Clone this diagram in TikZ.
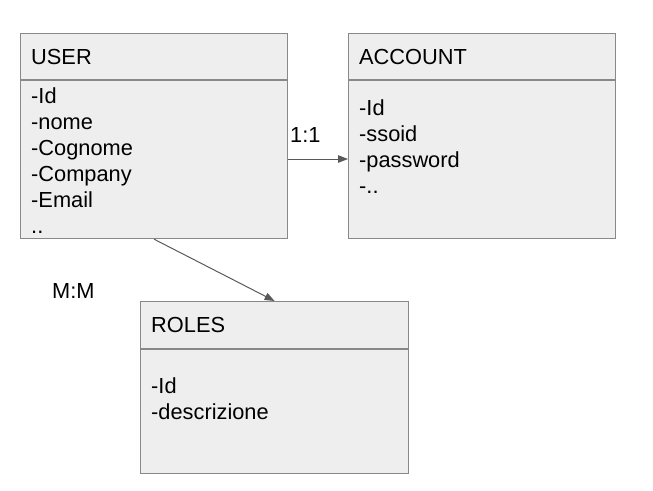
\documentclass[tikz,border=0pt]{standalone}
\usepackage{fontspec}
\setmainfont{Liberation Sans}
\usetikzlibrary{arrows.meta}
\definecolor{boxfill}{HTML}{EEEEEE}
\definecolor{boxline}{HTML}{888888}
\definecolor{arrcol}{HTML}{595959}
\begin{document}
\begin{tikzpicture}[x=1pt,y=-1pt,
  entbox/.style={draw=boxline,fill=boxfill,line width=1.2pt,inner sep=0pt,anchor=north west},
  sepline/.style={draw=boxline,line width=1.2pt},
  txt/.style={anchor=base west,inner sep=0pt,font=\fontsize{21.8}{26}\selectfont,text=black},
  arr/.style={draw=arrcol,line width=1pt,-{Triangle[length=10pt,width=7.5pt]}}]
\useasboundingbox (0,0) rectangle (653,490);
% boxes
\node[entbox,minimum width=267pt,minimum height=205pt] (user) at (20,33) {};
\node[entbox,minimum width=267pt,minimum height=205pt] (account) at (348,33) {};
\node[entbox,minimum width=268pt,minimum height=172pt] (roles) at (140,301) {};
% separators
\draw[sepline] (20,80) -- (287,80);
\draw[sepline] (348,80) -- (615,80);
\draw[sepline] (140,349) -- (408,349);
% titles
\node[txt] (usert) at (31,64) {USER};
\node[txt] (acct) at (359,64) {ACCOUNT};
\node[txt] (rolest) at (151,332) {ROLES};
% attributes
\node[txt] (u1) at (31,103) {-Id};
\node[txt] (u2) at (31,129) {-nome};
\node[txt] (u3) at (31,155) {-Cognome};
\node[txt] (u4) at (31,181) {-Company};
\node[txt] (u5) at (31,207) {-Email};
\node[txt] (u6) at (31,233) {..};
\node[txt] (a1) at (359,115) {-Id};
\node[txt] (a2) at (359,141) {-ssoid};
\node[txt] (a3) at (359,167) {-password};
\node[txt] (a4) at (359,193) {-..};
\node[txt] (r1) at (151,393) {-Id};
\node[txt] (r2) at (151,419) {-descrizione};
% connectors
\coordinate (c11) at (0,159);
\draw[arr] (user.east |- c11) -- (account.west |- c11);
\draw[arr] (user.south) -- (roles.north);
\node[txt] (l11) at (290,142) {1:1};
\node[txt] (lmm) at (52,298) {M:M};
\end{tikzpicture}
\end{document}
